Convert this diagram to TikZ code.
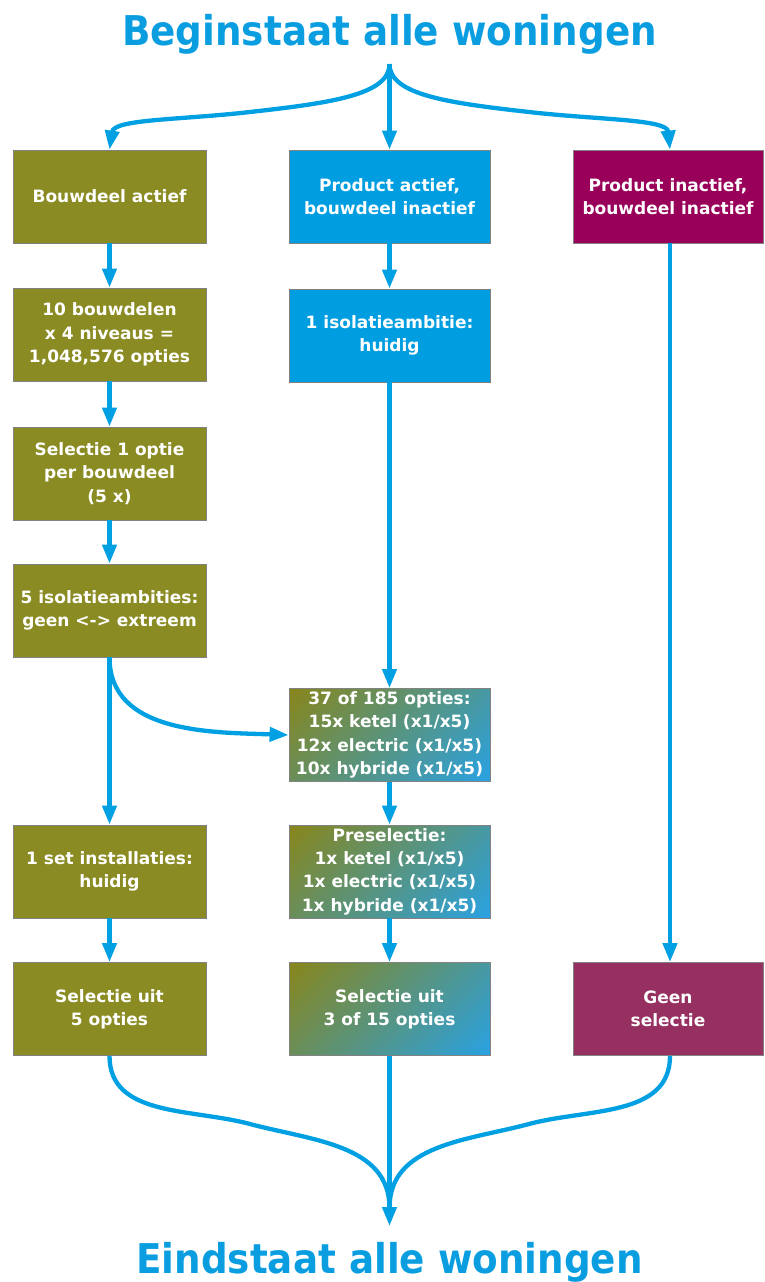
\documentclass[tikz,border=0pt]{standalone}
\usepackage{fontspec}
\setmainfont{DejaVu Sans}
\newfontfamily\titlefont{DejaVu Sans}[FakeStretch=0.91]
\usetikzlibrary{arrows.meta}
\definecolor{lineC}{RGB}{0,160,226}
\definecolor{titleC}{RGB}{10,158,224}
\definecolor{oliveC}{RGB}{138,139,34}
\definecolor{blueBox}{RGB}{0,158,224}
\definecolor{magC}{RGB}{153,0,90}
\definecolor{mag2C}{RGB}{150,48,97}
\definecolor{borderC}{RGB}{130,130,130}
\definecolor{gradA}{RGB}{134,134,30}
\definecolor{gradB}{RGB}{40,162,228}
\pgfdeclarehorizontalshading{diagshade}{100bp}{color(0bp)=(gradA); color(16bp)=(gradA); color(86bp)=(gradB); color(100bp)=(gradB)}
\begin{document}
\begin{tikzpicture}[x=1pt,y=-1pt,
  box/.style={draw=borderC, line width=0.8pt, text=white,
    font=\bfseries\fontsize{17}{23.4}\selectfont, align=center,
    inner sep=0pt, minimum height=93pt},
  wa/.style={minimum width=193pt},
  wb/.style={minimum width=201pt},
  wc/.style={minimum width=190pt},
  olivebox/.style={box, wa, fill=oliveC},
  gradbox/.style={box, wb, shade, shading=diagshade, shading angle=-45},
  conn/.style={draw=lineC, line width=4.3pt, -{Triangle[length=19pt,width=14pt]}},
  plain/.style={draw=lineC, line width=4.3pt},
  ttl/.style={text=titleC, font=\titlefont\bfseries\fontsize{41}{45}\selectfont, anchor=base, inner sep=0pt}
]
\useasboundingbox (0,0) rectangle (764,1282);

% titles
\node[ttl] (tbegin) at (389.5,45) {Beginstaat alle woningen};
\node[ttl] (tend) at (389.5,1273) {Eindstaat alle woningen};
\coordinate (top) at (389.5,64);
\coordinate (bot) at (389.5,1226);
\coordinate (botm) at (389.5,1208);

% column 1
\node[olivebox] (a1) at (109.5,196.5) {Bouwdeel actief};
\node[olivebox] (a2) at (109.5,334.5) {10 bouwdelen\\x 4 niveaus =\\1,048,576 opties};
\node[olivebox] (a3) at (109.5,473.5) {Selectie 1 optie\\per bouwdeel\\(5 x)};
\node[olivebox] (a4) at (109.5,610.5) {5 isolatieambities:\\geen <-> extreem};
\node[olivebox] (a5) at (109.5,871.5) {1 set installaties:\\huidig};
\node[olivebox] (a6) at (109.5,1009) {Selectie uit\\5 opties};

% column 2
\node[box, wb, fill=blueBox] (b1) at (389.5,196.5) {Product actief,\\bouwdeel inactief};
\node[box, wb, fill=blueBox] (b2) at (389.5,335.5) {1 isolatieambitie:\\huidig};
\node[gradbox] (b3) at (389.5,735) {37 of 185 opties:\\15x ketel (x1/x5)\\12x electric (x1/x5)\\10x hybride (x1/x5)};
\node[gradbox] (b4) at (389.5,871.5) {Preselectie:\\1x ketel (x1/x5)\\1x electric (x1/x5)\\1x hybride (x1/x5)};
\node[gradbox] (b5) at (389.5,1009) {Selectie uit\\3 of 15 opties};

% column 3
\node[box, wc, fill=magC] (c1) at (668,196.5) {Product inactief,\\bouwdeel inactief};
\node[box, wc, fill=mag2C] (c2) at (668,1009) {Geen\\selectie};
\coordinate (c1n) at ([xshift=2pt]c1.north);
\coordinate (c1s) at ([xshift=2pt]c1.south);
\coordinate (c2n) at ([xshift=2pt]c2.north);
\coordinate (c2s) at ([xshift=2pt]c2.south);

% top distribution
\draw[conn] (top) -- (b1.north);
\draw[conn] (top) .. controls (389.5,95) and (330,103) .. (250,112)
  .. controls (180,120) and (114,119) .. (a1.north);
\draw[conn] (top) .. controls (389.5,95) and (449,103) .. (529,112)
  .. controls (599,120) and (667,119) .. (c1n);

% column 1 arrows
\draw[conn] (a1) -- (a2);
\draw[conn] (a2) -- (a3);
\draw[conn] (a3) -- (a4);
\draw[conn] (a4) -- (a5);
\draw[conn] (a5) -- (a6);
\draw[conn] (a4.south) to[out=-90,in=178] (b3.west);

% column 2 arrows
\draw[conn] (b1) -- (b2);
\draw[conn] (b2) -- (b3);
\draw[conn] (b3) -- (b4);
\draw[conn] (b4) -- (b5);

% column 3
\draw[conn] (c1s) -- (c2n);

% bottom convergence
\draw[plain] (a6.south) to[out=-90,in=165] (250,1124) to[out=-15,in=90] (botm);
\draw[plain] (c2s) to[out=-90,in=15] (529,1124) to[out=195,in=90] (botm);
\draw[conn] (b5.south) -- (bot);
\end{tikzpicture}
\end{document}
